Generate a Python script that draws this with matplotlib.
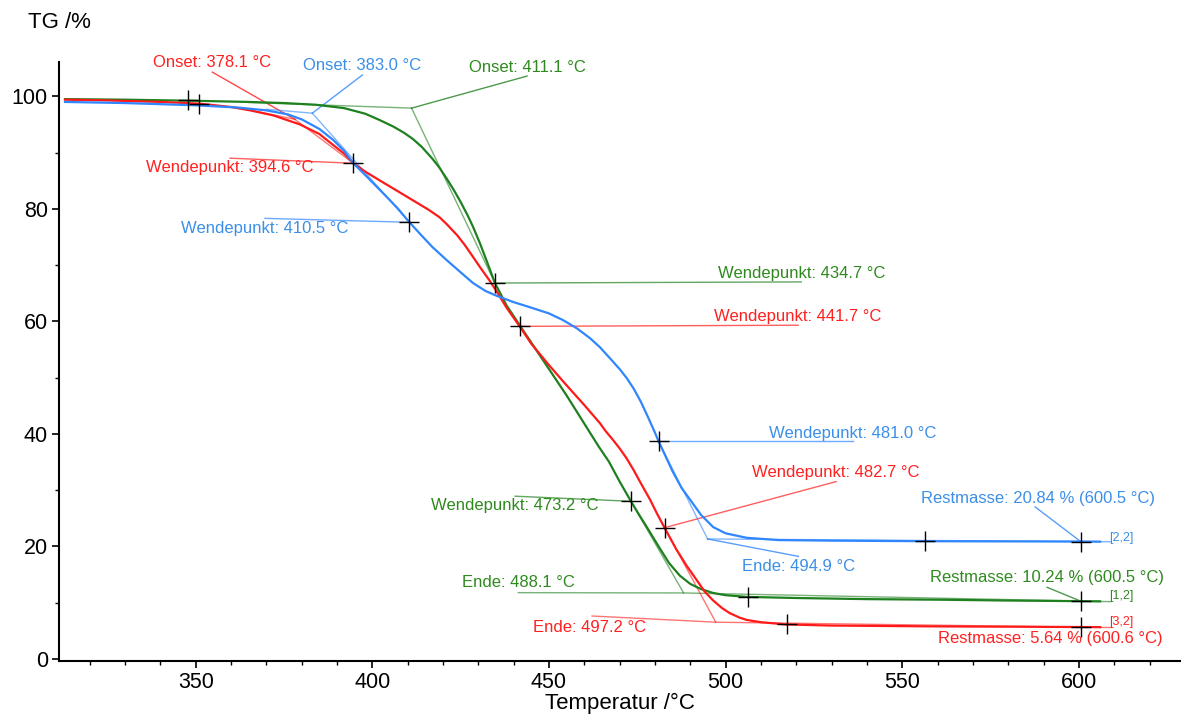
import matplotlib.pyplot as plt

plt.rcParams['font.family'] = ['Liberation Sans', 'DejaVu Sans']

# TG curves (temperature in °C, mass in %)
green_T = [313, 330, 350, 365, 375, 384, 392, 398, 402, 406, 409, 411.5, 414, 417, 419, 421,
           423, 425, 427, 428.5, 430.5, 432.5, 434.7, 438, 441.7, 445, 450, 455, 460, 464, 467,
           470, 473.2, 475.5, 477.7, 481, 484, 487, 490, 493, 496.4, 500, 506, 520, 540, 560,
           580, 600.5, 606]
green_TG = [99.5, 99.4, 99.2, 99.0, 98.8, 98.5, 97.9, 96.9, 95.8, 94.6, 93.5, 92.4, 91.0, 88.9,
            87.3, 85.4, 83.4, 81.2, 78.8, 76.8, 73.8, 70.5, 66.8, 62.8, 59.3, 56.2, 51.5, 46.8,
            41.8, 37.8, 35.0, 31.5, 28.0, 25.6, 23.4, 20.0, 17.0, 14.8, 13.3, 12.4, 11.7, 11.3,
            11.0, 10.8, 10.6, 10.5, 10.35, 10.24, 10.2]

blue_T = [313, 330, 350, 362, 370, 376, 380, 385, 389, 392, 394.6, 398, 403, 407, 410.5, 414,
          417, 421, 425, 428.5, 432, 435.3, 440, 444.6, 450, 454, 458, 461.6, 464.4, 467, 470,
          472, 474, 476, 478, 480, 481, 483, 485, 487.5, 490.5, 493, 496.5, 500, 506, 515, 530,
          556, 580, 600.5, 606]
blue_TG = [99.0, 98.8, 98.4, 98.0, 97.5, 96.8, 95.9, 94.2, 92.2, 90.3, 88.1, 86.0, 82.8, 80.2,
           77.6, 75.2, 73.2, 70.9, 68.7, 66.8, 65.4, 64.5, 63.4, 62.5, 61.4, 60.2, 58.7, 57.0,
           55.4, 53.6, 51.5, 49.9, 48.0, 45.7, 43.0, 40.2, 38.7, 36.0, 33.3, 30.4, 27.8, 25.6,
           23.4, 22.3, 21.5, 21.1, 21.0, 20.9, 20.87, 20.84, 20.82]

red_T = [313, 323, 340, 351, 360, 365.4, 372, 379.5, 385, 389, 392, 394.6, 398, 403, 407, 411.5,
         416, 419, 421, 424, 426, 428, 430.5, 433, 435.3, 438, 441.7, 445, 450, 455, 460, 464.4,
         466, 468, 470, 472, 474, 476, 478.6, 480.5, 482.7, 486, 489, 491.8, 494, 496.4, 499,
         501.2, 504, 506, 510, 517, 530, 560, 580, 600.6, 606]
red_TG = [99.4, 99.3, 99.0, 98.7, 98.1, 97.5, 96.6, 95.0, 93.3, 91.3, 89.8, 88.1, 86.6, 84.7,
          83.2, 81.5, 79.8, 78.5, 77.3, 75.3, 73.7, 71.9, 69.6, 67.4, 65.2, 62.4, 59.1, 56.0,
          52.2, 48.6, 45.1, 41.9, 40.5, 39.0, 37.4, 35.6, 33.5, 31.2, 28.3, 25.9, 23.3, 19.5,
          16.5, 14.0, 12.0, 10.4, 9.0, 8.1, 7.3, 6.9, 6.5, 6.1, 5.9, 5.75, 5.7, 5.64, 5.62]

c_green = '#1f801f'
c_blue = '#2f86ff'
c_red = '#ff1a1a'
t_green = '#2e8a1e'
t_blue = '#3b8fe8'
t_red = '#ff2020'

# Onset: tangent intersection, baseline start, label
onset_T = [378.1, 383.0, 411.1]
onset_TG = [95.9, 97.0, 97.9]
onset_base_T = [365, 370, 365]
onset_base_TG = [97.6, 97.7, 98.9]
onset_to_T = [394.6, 410.5, 434.7]        # steep tangent goes to inflection
onset_to_TG = [88.1, 77.6, 66.8]
onset_lab_T = [354.7, 397.2, 443.8]
onset_lab_TG = [106.0, 105.5, 105.2]
onset_lead_TG = [104.3, 103.8, 103.6]
onset_col = [c_red, c_blue, c_green]
onset_tcol = [t_red, t_blue, t_green]

# Wendepunkt: inflection, leader end / label centre
wende_T = [394.6, 410.5, 434.7, 441.7, 473.2, 481.0, 482.7]
wende_TG = [88.1, 77.6, 66.8, 59.1, 28.0, 38.7, 23.3]
wende_lab_T = [359.7, 369.6, 521.4, 520.5, 440.4, 536.0, 531.3]
wende_lead_TG = [89.0, 78.3, 67.0, 59.3, 28.9, 38.7, 31.5]
wende_lab_TG = [87.4, 76.5, 68.5, 60.9, 27.3, 40.1, 33.2]
wende_col = [c_red, c_blue, c_green, c_red, c_green, c_blue, c_red]
wende_tcol = [t_red, t_blue, t_green, t_red, t_green, t_blue, t_red]

# Ende: intersection, baseline start, label
ende_T = [488.1, 494.9, 497.2]
ende_TG = [11.7, 21.3, 6.5]
ende_from_T = [473.2, 481.0, 482.7]
ende_from_TG = [28.0, 38.7, 23.3]
ende_base_T = [441.3, 494.9, 462.2]
ende_base_TG = [11.75, 21.3, 7.6]
ende_end_TG = [10.15, 20.8, 5.55]
ende_lab_T = [441.3, 520.6, 461.6]
ende_lab_TG = [13.5, 16.4, 5.6]
ende_col = [c_green, c_blue, c_red]
ende_tcol = [t_green, t_blue, t_red]

# Restmasse
rest_T = [600.5, 600.5, 600.6]
rest_TG = [10.24, 20.84, 5.64]
rest_lab_T = [591.0, 588.5, 591.8]
rest_lab_TG = [14.5, 28.5, 3.6]
rest_lead_T = [591.0, 587.6, 600.6]
rest_lead_TG = [12.7, 27.0, 5.64]
rest_tag = ['[1,2]', '[2,2]', '[3,2]']
rest_tag_TG = [11.1, 21.4, 6.5]
rest_col = [c_green, c_blue, c_red]
rest_tcol = [t_green, t_blue, t_red]

# other evaluation crosses
extra_T = [347.8, 351.0, 506.4, 556.5, 517.4]
extra_TG = [99.4, 98.7, 11.0, 20.9, 6.1]

fig = plt.figure(figsize=(11.81, 7.17), dpi=100)
ax = fig.add_axes([59 / 1181, 56 / 717, 1122 / 1181, 599 / 717])

lw_a = 1.0
al = 0.6

for i in range(3):
    c = onset_col[i]
    ax.plot([onset_base_T[i], onset_T[i]], [onset_base_TG[i], onset_TG[i]], color=c, lw=lw_a, alpha=al)
    ax.plot([onset_T[i], onset_to_T[i]], [onset_TG[i], onset_to_TG[i]], color=c, lw=lw_a, alpha=al)
    ax.plot([onset_T[i], onset_lab_T[i]], [onset_TG[i], onset_lead_TG[i]], color=c, lw=lw_a, alpha=0.8)
    ax.text(onset_lab_T[i], onset_lab_TG[i], 'Onset: %.1f °C' % onset_T[i], color=onset_tcol[i],
            fontsize=12, ha='center', va='center')

for i in range(len(wende_T)):
    ax.plot([wende_T[i], wende_lab_T[i]], [wende_TG[i], wende_lead_TG[i]], color=wende_col[i],
            lw=lw_a, alpha=0.7)
    ax.text(wende_lab_T[i], wende_lab_TG[i], 'Wendepunkt: %.1f °C' % wende_T[i], color=wende_tcol[i],
            fontsize=12, ha='center', va='center')

for i in range(3):
    c = ende_col[i]
    ax.plot([ende_from_T[i], ende_T[i]], [ende_from_TG[i], ende_TG[i]], color=c, lw=lw_a, alpha=al)
    ax.plot([ende_base_T[i], ende_T[i], 609], [ende_base_TG[i], ende_TG[i], ende_end_TG[i]],
            color=c, lw=lw_a, alpha=al)
    ax.text(ende_lab_T[i], ende_lab_TG[i], 'Ende: %.1f °C' % ende_T[i], color=ende_tcol[i],
            fontsize=12, ha='center', va='center')
# leader for the blue Ende label
ax.plot([ende_T[1], ende_lab_T[1]], [ende_TG[1], ende_lab_TG[1] + 1.8], color=c_blue, lw=lw_a, alpha=0.8)

for i in range(3):
    ax.plot([rest_T[i], rest_lead_T[i]], [rest_TG[i], rest_lead_TG[i]], color=rest_col[i], lw=lw_a, alpha=0.8)
    ax.text(rest_lab_T[i], rest_lab_TG[i], 'Restmasse: %.2f %% (%.1f °C)' % (rest_TG[i], rest_T[i]),
            color=rest_tcol[i], fontsize=12, ha='center', va='center')
    ax.text(612, rest_tag_TG[i], rest_tag[i], color=rest_tcol[i], fontsize=9, ha='center', va='center')

ax.plot(green_T, green_TG, color=c_green, lw=1.6)
ax.plot(red_T, red_TG, color=c_red, lw=1.6)
ax.plot(blue_T, blue_TG, color=c_blue, lw=1.6)

ax.plot(wende_T, wende_TG, '+', color='black', ms=14, mew=1)
ax.plot(rest_T, rest_TG, '+', color='black', ms=14, mew=1)
ax.plot(extra_T, extra_TG, '+', color='black', ms=14, mew=1)

ax.set_xlim(311.3, 628.9)
ax.set_ylim(-0.4, 106.1)
ax.set_xticks([350, 400, 450, 500, 550, 600])
ax.set_xticks(range(320, 630, 10), minor=True)
ax.set_yticks([0, 20, 40, 60, 80, 100])
ax.set_yticks(range(10, 106, 20), minor=True)
ax.spines['top'].set_visible(False)
ax.spines['right'].set_visible(False)
ax.spines['left'].set_linewidth(1.5)
ax.spines['bottom'].set_linewidth(1.5)
ax.tick_params(which='major', direction='out', length=5, width=1.2, labelsize=15.5, pad=3)
ax.tick_params(which='minor', direction='out', length=3, width=1)
ax.set_xlabel('Temperatur /°C', fontsize=16, labelpad=0)
fig.text(28 / 1181, 1 - 22 / 717, 'TG /%', fontsize=16, ha='left', va='center')

fig.savefig('out.png', dpi=100)
